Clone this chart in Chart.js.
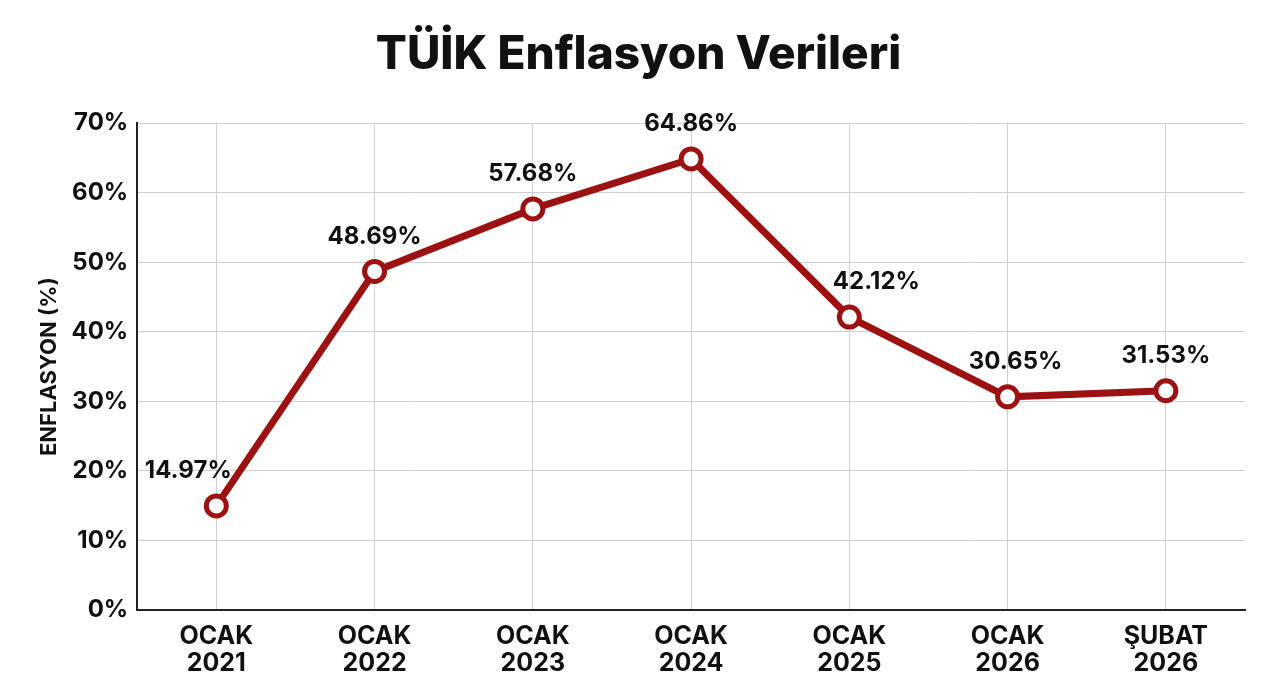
<!DOCTYPE html>
<html lang="tr">
<head>
<meta charset="utf-8">
<title>TÜİK Enflasyon Verileri</title>
<script src="https://cdn.jsdelivr.net/npm/chart.js@4/dist/chart.umd.min.js"></script>
<style>
  html, body { margin: 0; padding: 0; background: #fff; }
  #wrap { width: 1280px; height: 698px; }
</style>
</head>
<body>
<div id="wrap"><canvas id="chart" width="1280" height="698"></canvas></div>
<script>
// data
const months = ["OCAK", "OCAK", "OCAK", "OCAK", "OCAK", "OCAK", "ŞUBAT"];
const years = ["2021", "2022", "2023", "2024", "2025", "2026", "2026"];
const inflation = [14.97, 48.69, 57.68, 64.86, 42.12, 30.65, 31.53];
const yTicks = [0, 10, 20, 30, 40, 50, 60, 70];

const FONT = "Inter, 'Noto Sans', sans-serif";
const RED = "#9c1212";

// labels sit above each point; a couple are nudged sideways so they clear the line
const valueLabels = {
  id: "valueLabels",
  afterDatasetsDraw(chart) {
    const ctx = chart.ctx;
    const meta = chart.getDatasetMeta(0);
    const nudge = [-28, 0, 0, 0, 27, 8, 0];
    ctx.save();
    ctx.font = "700 24px " + FONT;
    ctx.fillStyle = "#111";
    ctx.textAlign = "center";
    ctx.textBaseline = "middle";
    meta.data.forEach((pt, i) => {
      ctx.fillText(inflation[i].toFixed(2) + "%", pt.x + nudge[i], pt.y - 35);
    });
    ctx.restore();
  }
};

const ctx = document.getElementById("chart").getContext("2d");
new Chart(ctx, {
  type: "line",
  data: {
    labels: months.map((m, i) => [m, years[i]]),
    datasets: [{
      data: inflation,
      borderColor: RED,
      borderWidth: 7,
      pointRadius: 10,
      pointHoverRadius: 10,
      pointBorderWidth: 5,
      pointBackgroundColor: "#fff",
      pointBorderColor: RED,
      tension: 0,
      clip: false
    }]
  },
  options: {
    responsive: false,
    animation: false,
    layout: { padding: { left: 32, right: 35, top: 10, bottom: 8 } },
    plugins: {
      legend: { display: false },
      tooltip: { enabled: false },
      title: {
        display: true,
        text: "TÜİK Enflasyon Verileri",
        color: "#111",
        font: { family: FONT, size: 46, weight: "800" },
        padding: { top: 18, bottom: 40 }
      }
    },
    scales: {
      x: {
        offset: true,
        grid: { color: "#cfcfcf", lineWidth: 1, drawTicks: false },
        border: { color: "#222", width: 2 },
        ticks: {
          color: "#111",
          font: { family: FONT, size: 25, weight: "700", lineHeight: 1.08 },
          padding: 13,
          maxRotation: 0
        }
      },
      y: {
        min: 0,
        max: 70,
        afterBuildTicks(scale) { scale.ticks = yTicks.map(v => ({ value: v })); },
        grid: { color: "#cfcfcf", lineWidth: 1, drawTicks: false },
        border: { color: "#222", width: 2 },
        ticks: {
          color: "#111",
          font: { family: FONT, size: 24, weight: "700" },
          padding: 9,
          callback: v => v + "%"
        },
        title: {
          display: true,
          text: "ENFLASYON (%)",
          color: "#111",
          font: { family: FONT, size: 22, weight: "700" },
          padding: { bottom: 0 }
        }
      }
    }
  },
  plugins: [valueLabels]
});
</script>
</body>
</html>
